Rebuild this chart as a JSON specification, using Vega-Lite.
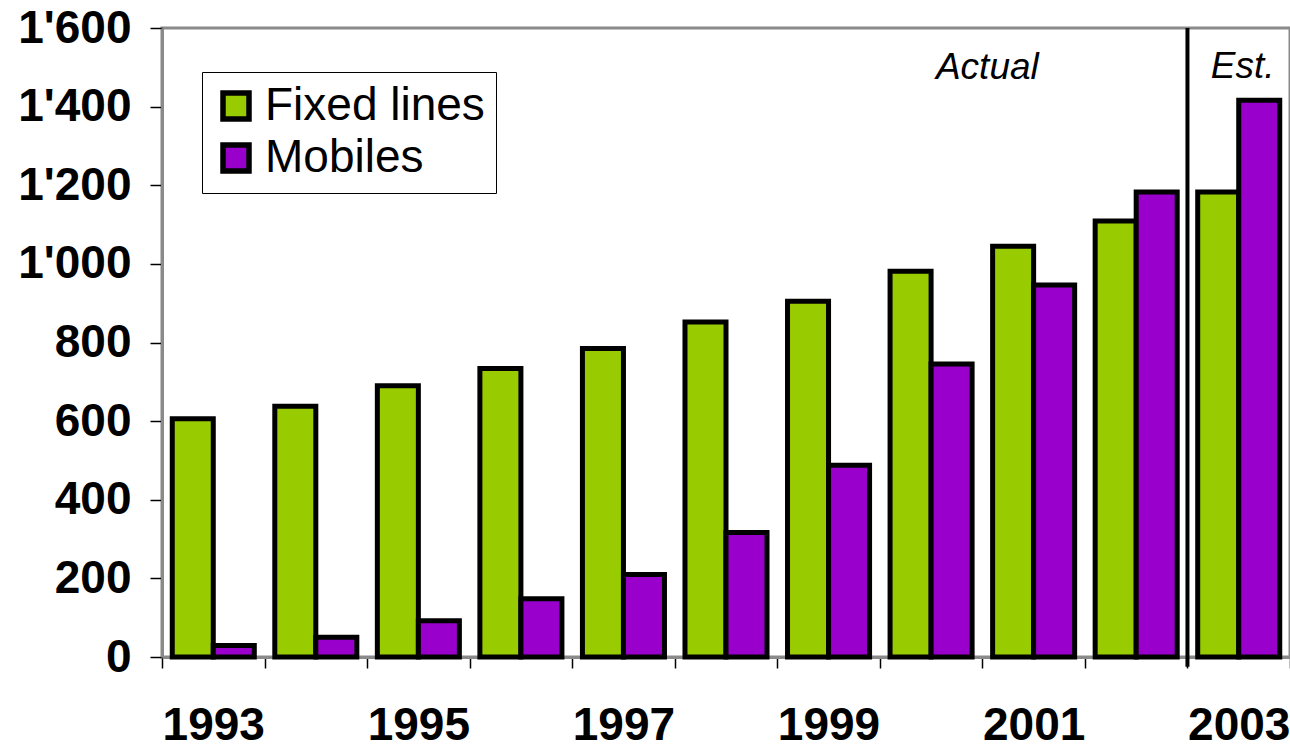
{
  "$schema": "https://vega.github.io/schema/vega-lite/v6.json",
  "autosize": "none",
  "padding": {"left": 162, "top": 28, "right": 0, "bottom": 88},
  "width": 1128,
  "height": 629,
  "background": "white",
  "config": {
    "font": "Liberation Sans",
    "view": {"stroke": "#8a8a8a", "strokeWidth": 3}
  },
  "datasets": {
    "bars": [
      {"year": 1993, "series": "Fixed lines", "value": 606},
      {"year": 1994, "series": "Fixed lines", "value": 638},
      {"year": 1995, "series": "Fixed lines", "value": 690},
      {"year": 1996, "series": "Fixed lines", "value": 734},
      {"year": 1997, "series": "Fixed lines", "value": 785},
      {"year": 1998, "series": "Fixed lines", "value": 852},
      {"year": 1999, "series": "Fixed lines", "value": 905},
      {"year": 2000, "series": "Fixed lines", "value": 981},
      {"year": 2001, "series": "Fixed lines", "value": 1045},
      {"year": 2002, "series": "Fixed lines", "value": 1109},
      {"year": 2003, "series": "Fixed lines", "value": 1183},
      {"year": 1993, "series": "Mobiles", "value": 29},
      {"year": 1994, "series": "Mobiles", "value": 50},
      {"year": 1995, "series": "Mobiles", "value": 92},
      {"year": 1996, "series": "Mobiles", "value": 148},
      {"year": 1997, "series": "Mobiles", "value": 210},
      {"year": 1998, "series": "Mobiles", "value": 317},
      {"year": 1999, "series": "Mobiles", "value": 488},
      {"year": 2000, "series": "Mobiles", "value": 745},
      {"year": 2001, "series": "Mobiles", "value": 946},
      {"year": 2002, "series": "Mobiles", "value": 1183},
      {"year": 2003, "series": "Mobiles", "value": 1416}
    ]
  },
  "layer": [
    {
      "data": {"name": "bars"},
      "mark": {"type": "bar", "stroke": "black", "strokeWidth": 5},
      "encoding": {
        "x": {
          "field": "year",
          "type": "ordinal",
          "scale": {"paddingInner": 0, "paddingOuter": 0},
          "axis": {
            "title": null,
            "labelAngle": 0,
            "labelOpacity": {"condition": {"test": "datum.value % 2 == 0", "value": 0}, "value": 1},
            "labelOverlap": false,
            "labelFontSize": 46,
            "labelFontWeight": "bold",
            "labelColor": "black",
            "labelPadding": 35,
            "tickBand": "extent",
            "tickSize": 11,
            "tickWidth": 1.5,
            "tickColor": "black",
            "domainColor": "#8a8a8a",
            "domainWidth": 3
          }
        },
        "xOffset": {
          "field": "series",
          "type": "nominal",
          "scale": {"paddingInner": 0, "paddingOuter": 0.25}
        },
        "y": {
          "field": "value",
          "type": "quantitative",
          "scale": {"domain": [0, 1600], "nice": false},
          "axis": {
            "title": null,
            "values": [0, 200, 400, 600, 800, 1000, 1200, 1400, 1600],
            "grid": false,
            "labelExpr": "replace(format(datum.value, ','), ',', '\\u0027')",
            "labelFontSize": 46,
            "labelFontWeight": "bold",
            "labelColor": "black",
            "labelPadding": 19,
            "tickSize": 12,
            "tickWidth": 1.5,
            "tickColor": "black",
            "domainColor": "#8a8a8a",
            "domainWidth": 3
          }
        },
        "color": {
          "field": "series",
          "type": "nominal",
          "scale": {"domain": ["Fixed lines", "Mobiles"], "range": ["#99CC00", "#9900CC"]},
          "legend": {
            "title": null,
            "orient": "none",
            "legendX": 40,
            "legendY": 44,
            "fillColor": "white",
            "strokeColor": "black",
            "padding": 11,
            "rowPadding": 4,
            "symbolType": "square",
            "symbolSize": 676,
            "symbolStrokeColor": "black",
            "symbolStrokeWidth": 5.5,
            "labelFontSize": 46,
            "labelColor": "black",
            "labelOffset": 6,
            "labelLimit": 400
          }
        }
      }
    },
    {
      "data": {"values": [{"year": 2003, "top": 1600, "bottom": -25}]},
      "mark": {"type": "rule", "stroke": "black", "strokeWidth": 4},
      "encoding": {
        "x": {"field": "year", "type": "ordinal", "bandPosition": 0},
        "y": {"field": "top", "type": "quantitative"},
        "y2": {"field": "bottom"}
      }
    },
    {
      "data": {"values": [{"year": 2001, "label": "Actual", "pos": 1470}]},
      "mark": {"type": "text", "fontSize": 37, "fontStyle": "italic", "align": "center", "baseline": "alphabetic", "color": "black", "dx": 5},
      "encoding": {
        "x": {"field": "year", "type": "ordinal", "bandPosition": 0},
        "y": {"field": "pos", "type": "quantitative"},
        "text": {"field": "label"}
      }
    },
    {
      "data": {"values": [{"year": 2003, "label": "Est.", "pos": 1472}]},
      "mark": {"type": "text", "fontSize": 37, "fontStyle": "italic", "align": "center", "baseline": "alphabetic", "color": "black", "dx": 4},
      "encoding": {
        "x": {"field": "year", "type": "ordinal", "bandPosition": 0.5},
        "y": {"field": "pos", "type": "quantitative"},
        "text": {"field": "label"}
      }
    }
  ]
}
